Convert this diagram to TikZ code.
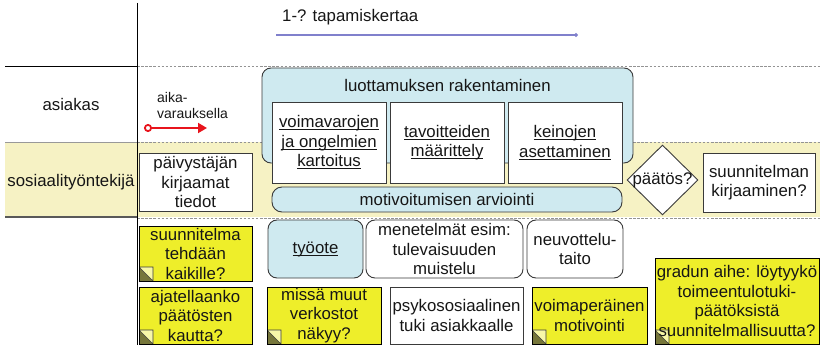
\documentclass[tikz,border=0pt]{standalone}
\usepackage{fontspec}
\setmainfont{Liberation Sans}
\usetikzlibrary{shapes.geometric,arrows.meta}

\definecolor{lane}{HTML}{F6F2C4}
\definecolor{sky}{HTML}{CFEAF0}
\definecolor{note}{HTML}{EEEE2A}
\definecolor{fold}{HTML}{76763A}
\definecolor{foldlight}{HTML}{F7F7A8}
\definecolor{ink}{HTML}{161616}
\definecolor{edge}{HTML}{3A3A3A}
\definecolor{span}{HTML}{8080CC}
\definecolor{booking}{HTML}{E8141C}

% underline at a fixed depth below the baseline, like a link
\newcommand\ulink[1]{\setbox0\hbox{#1}\rlap{\rule[-2.3pt]{\wd0}{0.8pt}}\box0}

\begin{document}
\begin{tikzpicture}[x=1pt,y=-1pt,
  font=\fontsize{16.8}{19.5}\selectfont,
  every node/.style={inner sep=0pt, align=center, text=ink},
  plainbox/.style={draw=edge, line width=0.9pt, fill=white},
  softbox/.style={draw=edge, line width=0.9pt, fill=sky, rounded corners=9pt},
  openbox/.style={draw=edge, line width=0.9pt, fill=white, rounded corners=9pt},
  sticky/.style={draw=black, line width=0.9pt, fill=note,
    path picture={
      \fill[fold] (path picture bounding box.south west) -- ++(0pt,14pt) -- ++(14pt,-14pt) -- cycle;
      \filldraw[fill=foldlight, draw=edge, line width=0.7pt]
        (path picture bounding box.south west) ++(0pt,14pt) -- ++(14pt,0pt) -- ++(0pt,-14pt) -- cycle;
    }},
  lanesep/.style={draw=gray!85, dashed, dash pattern=on 2.5pt off 1.6pt, line width=0.8pt}
]
\useasboundingbox (0,0) rectangle (820,345);

% swimlanes
\fill[lane] (5,142) rectangle (820,217);
\draw[black, line width=0.9pt] (5,66) -- (137,66);
\draw[gray!80, line width=0.7pt] (5,142) -- (137,142);
\draw[gray!70!black, line width=1.4pt] (5,217) -- (137,217);
\draw[lanesep] (137,66) -- (820,66);
\draw[lanesep] (137,142) -- (820,142);
\draw[lanesep] (137,218) -- (820,218);
\draw[black, line width=0.9pt] (137,3) -- (137,345);

\node (asiakas) at (71,104) {asiakas};
\node (sostt) at (71,182) {sosiaalityöntekijä};

% number of meetings
\node[anchor=west] (count) at (282,17) {1-? tapamiskertaa};
\coordinate (spanA) at (276,35);
\coordinate (spanB) at (578,35);
\draw[span, line width=1.1pt, -{Circle[length=4pt]}] (spanA) -- (spanB);

% booking arrow
\node[anchor=west, font=\fontsize{14}{16}\selectfont, align=left] (aika) at (157,105) {aika-\\varauksella};
\coordinate (bookA) at (144,128);
\coordinate (bookB) at (207,128);
\draw[booking, line width=1.8pt, {Circle[open, length=8pt, fill=white]}-{Triangle[length=9pt, width=10pt]}] (bookA) -- (bookB);

% trust building frame
\node[softbox, minimum width=371pt, minimum height=95pt] (trust) at (447.5,115.5) {};
\node (trustt) at (447.5,85) {luottamuksen rakentaminen};
\node[plainbox, minimum width=114pt, minimum height=81pt] (kart) at (329,142.5)
  {\ulink{voimavarojen}\\\ulink{ja ongelmien}\\\ulink{kartoitus}};
\node[plainbox, minimum width=114pt, minimum height=81pt] (tavo) at (447,142.5)
  {\ulink{tavoitteiden}\\\ulink{määrittely}};
\node[plainbox, minimum width=114pt, minimum height=81pt] (kein) at (565,142.5)
  {\ulink{keinojen}\\\ulink{asettaminen}};
\node[softbox, rounded corners=10pt, minimum width=350pt, minimum height=25pt] (motiv) at (447,199.5)
  {motivoitumisen arviointi};

\node[plainbox, minimum width=113pt, minimum height=58pt] (paiv) at (195.5,182)
  {päivystäjän\\kirjaamat\\tiedot};
\node[diamond, draw=edge, line width=0.9pt, fill=white, minimum width=71pt, minimum height=70pt] (dec) at (662.5,180) {};
\node (dect) at (dec.center) {päätös?};
\node[plainbox, minimum width=112pt, minimum height=59pt] (kirj) at (759,182.5)
  {suunnitelman\\kirjaaminen?};

% methods and notes
\node[sticky, minimum width=113pt, minimum height=55pt] (n1) at (195.5,253.5)
  {suunnitelma\\tehdään\\kaikille?};
\node[sticky, minimum width=113pt, minimum height=57pt] (n2) at (195.5,315.5)
  {ajatellaanko\\päätösten\\kautta?};
\node[softbox, minimum width=95pt, minimum height=58pt] (tyo) at (315.5,249) {\ulink{työote}};
\node[openbox, minimum width=157pt, minimum height=58pt] (mene) at (444.5,249)
  {menetelmät esim:\\tulevaisuuden\\muistelu};
\node[openbox, minimum width=96pt, minimum height=58pt] (neuv) at (575,249)
  {neuvottelu-\\taito};
\node[sticky, minimum width=114pt, minimum height=57pt] (n3) at (324,315.5)
  {missä muut\\verkostot\\näkyy?};
\node[plainbox, minimum width=133pt, minimum height=57pt] (psy) at (456.5,315.5)
  {psykososiaalinen\\tuki asiakkaalle};
\node[sticky, minimum width=115pt, minimum height=57pt] (n4) at (589.5,315.5)
  {voimaperäinen\\motivointi};
\node[sticky, minimum width=164pt, minimum height=86pt] (n5) at (737,301)
  {gradun aihe: löytyykö\\toimeentulotuki-\\päätöksistä\\suunnitelmallisuutta?};
\end{tikzpicture}
\end{document}
